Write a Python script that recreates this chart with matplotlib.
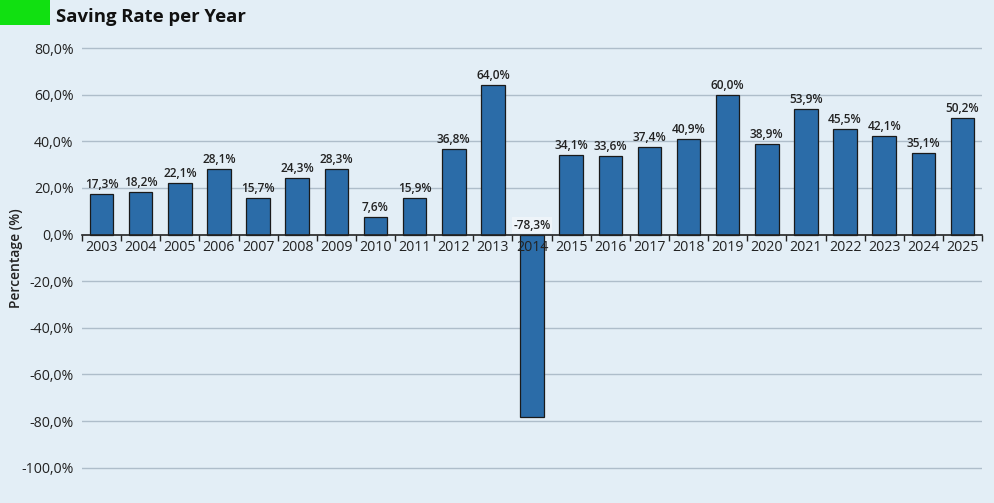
import matplotlib
matplotlib.use("Agg")
from matplotlib import pyplot as plt
from matplotlib import font_manager as fm
from matplotlib.patches import Rectangle

# drop variable font files so the static Open Sans faces are used
fm.fontManager.ttflist = [f for f in fm.fontManager.ttflist if '[' not in f.fname]

years = [str(y) for y in range(2003, 2026)]
rates = [17.3, 18.2, 22.1, 28.1, 15.7, 24.3, 28.3, 7.6, 15.9, 36.8, 64.0, -78.3,
         34.1, 33.6, 37.4, 40.9, 60.0, 38.9, 53.9, 45.5, 42.1, 35.1, 50.2]
y_ticks = [80, 60, 40, 20, 0, -20, -40, -60, -80, -100]

bg = '#e3eef6'
plt.rcParams['font.family'] = ['Open Sans', 'DejaVu Sans']

fig = plt.figure(figsize=(9.94, 5.03), dpi=100, facecolor=bg)
ax = fig.add_axes([0.0825, 0.0656, 0.9055, 0.841])
ax.set_facecolor(bg)
ax.set_axisbelow(False)

# grid lines behind bars
for t in y_ticks:
    if t != 0:
        ax.axhline(t, color='#aebdca', linewidth=1, zorder=0.5)

x = list(range(len(years)))
ax.bar(x, rates, width=0.6, color='#2b6ca8', edgecolor='#1a1a1a', linewidth=0.9, zorder=2)

# data labels
for xi, v in zip(x, rates):
    txt = f"{v:.1f}%".replace('.', ',')
    if v >= 0:
        ax.text(xi, v + 1.3, txt, ha='center', va='bottom', fontsize=8.6,
                fontweight='semibold', color='#222222', zorder=4)
    else:
        ax.text(xi, 1.3, txt, ha='center', va='bottom', fontsize=8.6,
                fontweight='semibold', color='#222222', zorder=4,
                bbox=dict(boxstyle='square,pad=0.12', fc='#eef4f9', ec='none'))

ax.set_xlim(-0.5, len(years) - 0.5)
ax.set_ylim(-101, 80.5)
ax.set_yticks(y_ticks)
ax.set_yticklabels([f"{t:.1f}%".replace('.', ',') for t in y_ticks], fontsize=10.2, color='#222222')
ax.tick_params(axis='y', length=0, pad=6)

# x axis at zero, ticks at category boundaries
ax.spines['bottom'].set_position(('data', 0))
ax.spines['bottom'].set_color('#222222')
ax.spines['bottom'].set_linewidth(1.2)
for s in ['top', 'right', 'left']:
    ax.spines[s].set_visible(False)
ax.set_xticks([i - 0.5 for i in range(len(years) + 1)])
ax.set_xticklabels([])
ax.set_xticks(x, minor=True)
ax.set_xticklabels(years, minor=True, fontsize=10.2, color='#222222')
ax.tick_params(axis='x', which='major', length=4, width=1, color='#222222', direction='out')
ax.tick_params(axis='x', which='minor', length=0, pad=4)

ax.set_ylabel('Percentage (%)', fontsize=10, fontweight='semibold', color='#222222')
ax.yaxis.set_label_coords(-0.066, 0.5)

# title with green marker
fig.patches.append(Rectangle((0, 1 - 25 / 503), 50 / 994, 25 / 503, transform=fig.transFigure,
                             facecolor='#11e011', edgecolor='none'))
fig.text(56 / 994, 1 - 17 / 503, 'Saving Rate per Year', fontsize=13.3, fontweight='bold',
         color='#111111', va='center', ha='left')

fig.savefig('out.png', dpi=100, facecolor=bg)
